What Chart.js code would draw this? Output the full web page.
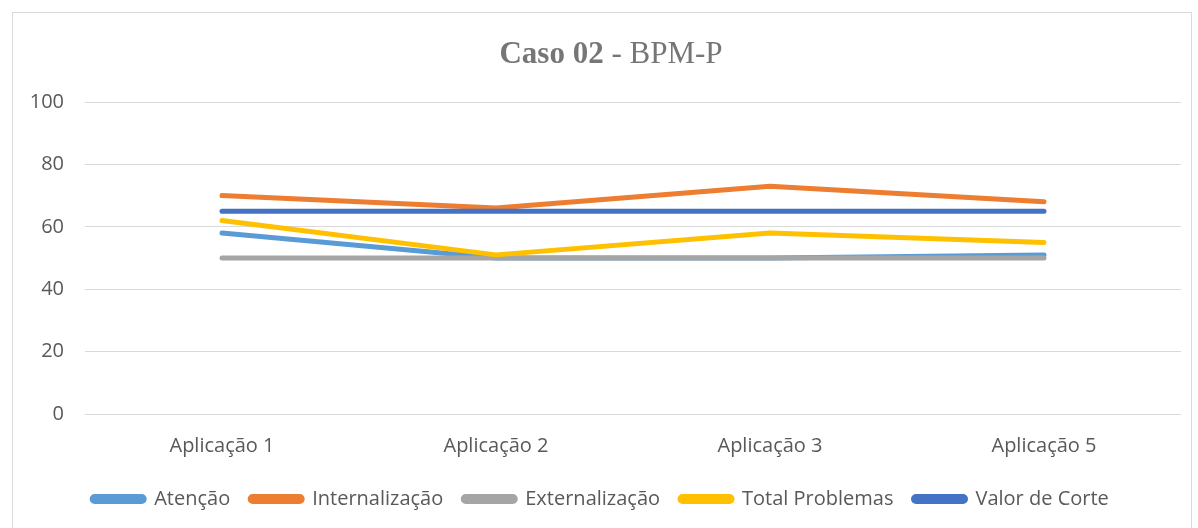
<!DOCTYPE html>
<html>
<head>
<meta charset="utf-8">
<script src="https://cdn.jsdelivr.net/npm/chart.js@4/dist/chart.umd.min.js"></script>
<style>
  html, body { margin: 0; padding: 0; background: #fff; }
  #wrap { position: relative; width: 1198px; height: 528px; }
  #frame { position: absolute; left: 12px; top: 12px; width: 1180px; height: 530px; border: 1px solid #d9d9d9; box-sizing: border-box; }
  canvas { position: absolute; left: 0; top: 0; }
</style>
</head>
<body>
<div id="wrap">
  <div id="frame"></div>
  <canvas id="chart" width="1198" height="528"></canvas>
</div>
<script>
// Chart data
const categories = ['Aplicação 1', 'Aplicação 2', 'Aplicação 3', 'Aplicação 5'];
const atencao = [58, 50, 50, 51];
const internalizacao = [70, 66, 73, 68];
const externalizacao = [50, 50, 50, 50];
const totalProblemas = [62, 51, 58, 55];
const valorCorte = [65, 65, 65, 65];
const yTicks = [0, 20, 40, 60, 80, 100];

const seriesNames = ['Atenção', 'Internalização', 'Externalização', 'Total Problemas', 'Valor de Corte'];
const seriesValues = [atencao, internalizacao, externalizacao, totalProblemas, valorCorte];
const seriesColors = ['#5b9bd5', '#ed7d31', '#a5a5a5', '#ffc000', '#4472c4'];

const TEXT_COLOR = '#595959';
const FONT = '"Open Sans", "Noto Sans", sans-serif';
const TITLE_FONT = '"Liberation Serif", "Times New Roman", serif';

// Draw the title with a bold and a regular part
const titlePlugin = {
  id: 'mixedTitle',
  afterDraw(chart) {
    const ctx = chart.ctx;
    const bold = 'Caso 02';
    const rest = ' - BPM-P';
    ctx.save();
    ctx.fillStyle = '#767676';
    ctx.textBaseline = 'alphabetic';
    ctx.font = 'bold 31px ' + TITLE_FONT;
    const w1 = ctx.measureText(bold).width;
    ctx.font = '31px ' + TITLE_FONT;
    const w2 = ctx.measureText(rest).width;
    const x0 = 611 - (w1 + w2) / 2;
    ctx.font = 'bold 31px ' + TITLE_FONT;
    ctx.fillText(bold, x0, 63);
    ctx.font = '31px ' + TITLE_FONT;
    ctx.fillText(rest, x0 + w1, 63);
    ctx.restore();
  }
};

// Later series are drawn on top (lower order = drawn last)
const datasets = seriesNames.map((name, i) => ({
  label: name,
  data: seriesValues[i],
  borderColor: seriesColors[i],
  backgroundColor: seriesColors[i],
  borderWidth: 5,
  borderCapStyle: 'round',
  borderJoinStyle: 'round',
  pointRadius: 0,
  pointHoverRadius: 0,
  tension: 0,
  order: seriesNames.length - i
}));

new Chart(document.getElementById('chart').getContext('2d'), {
  type: 'line',
  data: { labels: categories, datasets },
  options: {
    responsive: false,
    animation: false,
    layout: { padding: { left: 20, right: 17, top: 102, bottom: 9 } },
    plugins: {
      title: { display: false },
      tooltip: { enabled: false },
      legend: {
        position: 'bottom',
        labels: {
          color: TEXT_COLOR,
          font: { family: FONT, size: 20 },
          boxWidth: 52,
          boxHeight: 5,
          padding: 20,
          useBorderRadius: true,
          borderRadius: 2.5,
          sort: (a, b) => a.datasetIndex - b.datasetIndex
        }
      }
    },
    scales: {
      x: {
        offset: true,
        grid: { display: false },
        border: { display: false },
        afterFit(scale) { scale.height = 55; },
        ticks: { color: TEXT_COLOR, font: { family: FONT, size: 20 }, padding: 12 }
      },
      y: {
        min: 0,
        max: 100,
        afterBuildTicks(scale) { scale.ticks = yTicks.map(v => ({ value: v })); },
        afterFit(scale) { scale.width = 65; },
        grid: { color: '#d9d9d9', lineWidth: 1, drawTicks: false },
        border: { display: false },
        ticks: { color: TEXT_COLOR, font: { family: FONT, size: 20 }, padding: 21 }
      }
    }
  },
  plugins: [titlePlugin]
});
</script>
</body>
</html>
